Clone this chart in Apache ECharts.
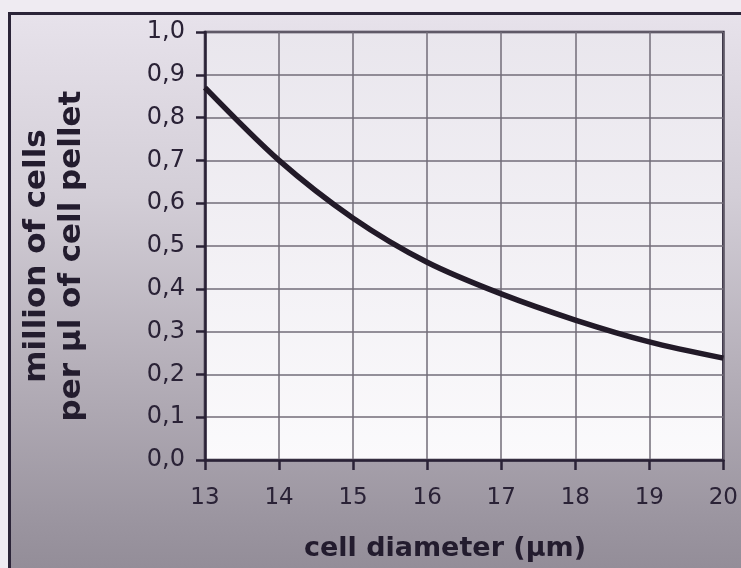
<!DOCTYPE html>
<html>
<head>
<meta charset="utf-8">
<script src="https://cdn.jsdelivr.net/npm/echarts@6/dist/echarts.min.js"></script>
<style>
  html, body { margin: 0; padding: 0; width: 741px; height: 568px; overflow: hidden; background: #efebf2; }
  #bg { position: absolute; left: 8px; top: 12px; width: 760px; height: 600px;
        border-left: 3px solid #2b2438; border-top: 3px solid #2b2438;
        background: linear-gradient(to bottom, #e7e2eb 0%, #d3ced7 30%, #b4aeb8 60%, #9a949f 85%, #8c8691 100%); }
  #chart { position: absolute; left: 0; top: 0; width: 741px; height: 568px; }
</style>
</head>
<body>
<div id="bg"></div>
<div id="chart"></div>
<script>
const diameters = [13, 14, 15, 16, 17, 18, 19, 20];
const cellsPerUl = [0.87, 0.70, 0.565, 0.462, 0.388, 0.327, 0.276, 0.238];
const yTicks = [0, 0.1, 0.2, 0.3, 0.4, 0.5, 0.6, 0.7, 0.8, 0.9, 1.0];
const yTitle = ['million of cells', 'per µl of cell pellet'];
const xTitle = 'cell diameter (µm)';

const chart = echarts.init(document.getElementById('chart'), null, { renderer: 'canvas' });
const dark = '#2a2236';
const gridLine = '#726c78';

chart.setOption({
  backgroundColor: 'transparent',
  animation: false,
  grid: {
    left: 205, top: 32, right: 17, bottom: 108,
    show: true,
    borderColor: dark,
    borderWidth: 2.5,
    backgroundColor: new echarts.graphic.LinearGradient(0, 0, 0, 1, [
      { offset: 0, color: '#e9e6ed' },
      { offset: 1, color: '#fbfafc' }
    ])
  },
  xAxis: {
    type: 'value',
    min: 13, max: 20, interval: 1,
    axisLine: { show: true, lineStyle: { color: dark, width: 2.5 } },
    axisTick: { show: true, length: 10, lineStyle: { color: dark, width: 2.5 } },
    axisLabel: { margin: 27, fontSize: 23, color: dark, fontFamily: 'DejaVu Sans' },
    splitLine: { show: true, lineStyle: { color: gridLine, width: 1.5 } }
  },
  yAxis: {
    type: 'value',
    min: 0, max: 1, interval: 0.1,
    axisLine: { show: true, lineStyle: { color: dark, width: 2.5 } },
    axisTick: { show: true, length: 9, lineStyle: { color: dark, width: 2.5 } },
    axisLabel: {
      margin: 20, fontSize: 24, color: dark, fontFamily: 'DejaVu Sans',
      formatter: v => v.toFixed(1).replace('.', ',')
    },
    splitLine: { show: true, lineStyle: { color: gridLine, width: 1.5 } }
  },
  graphic: [
    {
      type: 'text', x: 54, y: 256, rotation: Math.PI / 2,
      style: {
        text: yTitle.join('\n'), fill: '#231c2e',
        font: 'bold 31px "DejaVu Sans"', lineHeight: 35,
        align: 'center', verticalAlign: 'middle'
      }
    },
    {
      type: 'text', x: 445, y: 549,
      style: {
        text: xTitle, fill: '#231c2e',
        font: 'bold 27px "DejaVu Sans"',
        align: 'center', verticalAlign: 'middle'
      }
    }
  ],
  series: [{
    type: 'line',
    data: diameters.map((d, i) => [d, cellsPerUl[i]]),
    smooth: 0.3,
    showSymbol: false,
    lineStyle: { color: '#221a28', width: 5.5 }
  }]
});
</script>
</body>
</html>
